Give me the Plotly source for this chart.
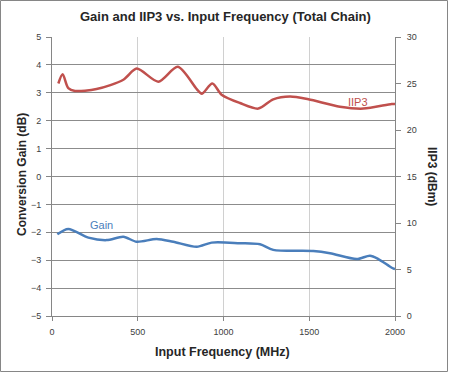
import plotly.graph_objects as go

# Data
freq_iip3 = [37, 62, 95, 134, 260, 416, 494, 620, 733, 844, 873, 935, 989, 1096, 1203, 1290, 1388, 1495, 1679, 1815, 1981, 2000]
iip3_dbm = [25.0, 26.0, 24.5, 24.2, 24.4, 25.4, 26.6, 25.2, 26.8, 24.4, 23.9, 25.0, 23.8, 22.9, 22.3, 23.3, 23.6, 23.3, 22.5, 22.3, 22.8, 22.8]

freq_gain = [31, 95, 212, 319, 416, 494, 610, 707, 844, 931, 1096, 1213, 1290, 1524, 1621, 1777, 1854, 1903, 1981, 2000]
gain_db = [-2.07, -1.88, -2.19, -2.28, -2.16, -2.34, -2.24, -2.34, -2.52, -2.37, -2.39, -2.43, -2.63, -2.67, -2.75, -2.96, -2.84, -2.96, -3.27, -3.32]

x_ticks = [0, 500, 1000, 1500, 2000]
left_ticks = [5, 4, 3, 2, 1, 0, -1, -2, -3, -4, -5]
right_ticks = [0, 5, 10, 15, 20, 25, 30]

RED = "#c0504d"
BLUE = "#4a7ebb"
FONT = "Liberation Sans"

fig = go.Figure()
fig.add_trace(go.Scatter(x=freq_gain, y=gain_db, mode="lines", line=dict(color=BLUE, width=2.5, shape="spline", smoothing=0.8),
                         yaxis="y", showlegend=False, hoverinfo="skip"))
fig.add_trace(go.Scatter(x=freq_iip3, y=iip3_dbm, mode="lines", line=dict(color=RED, width=2.5, shape="spline", smoothing=0.8),
                         yaxis="y2", showlegend=False, hoverinfo="skip"))

tickfont = dict(family=FONT, size=9, color="#404040")
L, R, T, B = 52, 55, 37, 57
W, H = 450, 373
pw, ph = W - L - R, H - T - B

def px_x(p):
    return (p - L) / pw

def px_y(p):
    return (H - B - p) / ph

def label(text, x, y, size, color, angle=0):
    return dict(text=text, xref="paper", yref="paper", x=px_x(x), y=px_y(y), xanchor="center", yanchor="middle",
                textangle=angle, showarrow=False, font=dict(family=FONT, size=size, color=color))

fig.update_layout(
    width=W, height=H, margin=dict(l=L, r=R, t=T, b=B),
    paper_bgcolor="white", plot_bgcolor="white",
    xaxis=dict(range=[0, 2000], tickvals=x_ticks, showgrid=True, gridcolor="#d0d0d0", gridwidth=1,
               showline=True, linecolor="#868686", linewidth=1, ticks="outside", ticklen=4, tickcolor="#868686",
               tickfont=tickfont, zeroline=False, ticklabelstandoff=3),
    yaxis=dict(range=[-5, 5], tickvals=left_ticks, showgrid=True, gridcolor="#8c8c8c", gridwidth=1,
               showline=True, linecolor="#868686", linewidth=1, ticks="outside", ticklen=5, tickcolor="#868686",
               tickfont=tickfont, zeroline=False, ticklabelstandoff=3),
    yaxis2=dict(range=[0, 30], tickvals=right_ticks, overlaying="y", side="right", showgrid=False,
                showline=True, linecolor="#868686", linewidth=1, ticks="outside", ticklen=5, tickcolor="#868686",
                tickfont=tickfont, zeroline=False, ticklabelstandoff=4),
    annotations=[
        label("<b>Gain and IIP3 vs. Input Frequency (Total Chain)</b>", 225, 16, 13, "#262626"),
        label("<b>Conversion Gain (dB)</b>", 22, 175, 12, "#262626", -90),
        label("<b>IIP3 (dBm)</b>", 432, 176, 12, "#262626", 90),
        label("<b>Input Frequency (MHz)</b>", 222, 352, 12.5, "#262626"),
        label("IIP3", 358, 102, 11, RED),
        label("Gain", 101, 225, 11, BLUE),
    ],
    shapes=[dict(type="rect", xref="paper", yref="paper", x0=px_x(0.5), x1=px_x(447.5), y0=px_y(0.5), y1=px_y(371.5),
                 line=dict(color="#868686", width=1), layer="below")],
)

fig.write_html("out.html", config={"displayModeBar": False}, post_script="document.body.style.margin='0';")
